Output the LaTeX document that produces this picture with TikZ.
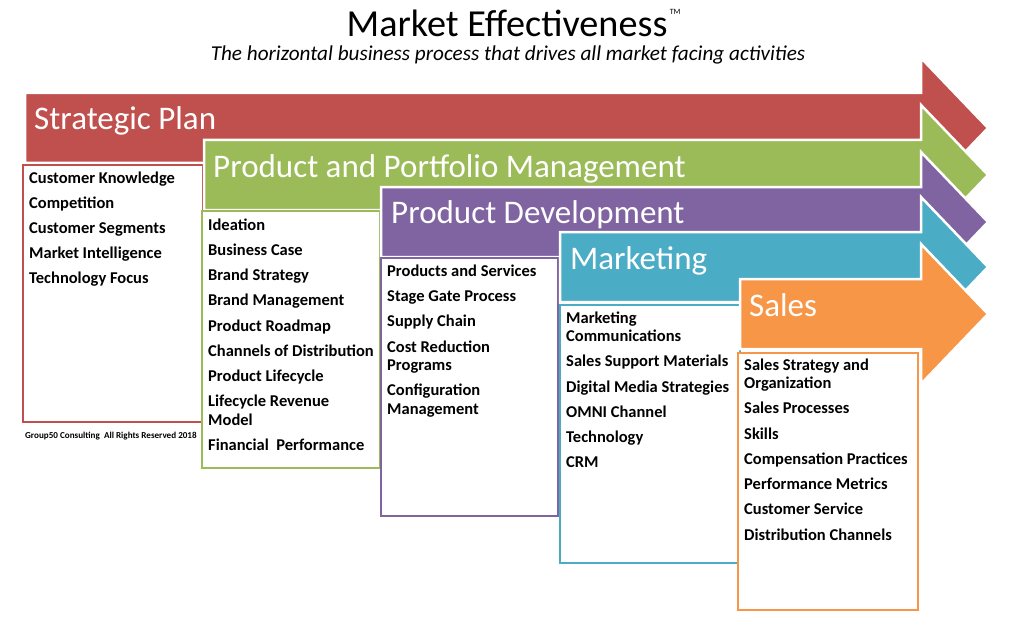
\documentclass[tikz,border=0pt]{standalone}
\usepackage{fontspec}
\setmainfont{Carlito}
\definecolor{cRed}{HTML}{C0504D}
\definecolor{cGreen}{HTML}{9BBB59}
\definecolor{cPurple}{HTML}{8064A2}
\definecolor{cTeal}{HTML}{4BACC6}
\definecolor{cOrange}{HTML}{F79646}
\newcommand\mearrow[3]{%
  \filldraw[arrowshape=#3] (#1,#2-35) -- (921,#2-35) -- (921,#2-70) -- (988,#2) -- (921,#2+70) -- (921,#2+35) -- (#1,#2+35) -- cycle;}
\begin{document}
\begin{tikzpicture}[x=1pt,y=-1pt,
  arrowshape/.style={fill=#1, draw=white, line width=2.5pt, line join=miter},
  listbox/.style={draw=#1, line width=2pt, fill=white},
  stage/.style={text=white, font=\fontsize{33}{36}\selectfont, anchor=base west, inner sep=0pt},
  item/.style={font=\bfseries\fontsize{16.5}{18}\selectfont, anchor=base west, inner sep=0pt}]
\useasboundingbox (0,0) rectangle (1024,639);

\node[font=\fontsize{38.2}{40}\selectfont, anchor=base, inner sep=0pt] (title) at (507,36.5) {Market Effectiveness};
\node[font=\fontsize{8}{9}\selectfont, anchor=base west, inner sep=0pt] (tm) at (title.base east) [xshift=2pt, yshift=22pt] {TM};
\node[font=\itshape\fontsize{21.2}{24}\selectfont, anchor=base, inner sep=0pt] (sub) at (508,60.5) {The horizontal business process that drives all market facing activities};

% Strategic Plan
\mearrow{25}{128}{cRed}
\node[stage] (sp) at (34,130) {Strategic Plan};
\draw[listbox=cRed] (23,165) rectangle (203,422);
\foreach \t/\y [count=\i] in {Customer Knowledge/183.3, Competition/208.3, Customer Segments/233.3, Market Intelligence/258.3, Technology Focus/283.3}
  \node[item] (r\i) at (29,\y) {\t};
\node[font=\bfseries\fontsize{9.1}{10}\selectfont, anchor=base west, inner sep=0pt] (copy) at (25,438.5) {Group50 Consulting~~All Rights Reserved 2018};

% Product and Portfolio Management
\mearrow{204}{175}{cGreen}
\node[stage] (ppm) at (213,177) {Product and Portfolio Management};
\draw[listbox=cGreen] (202,211) rectangle (380,468);
\foreach \t/\y [count=\i] in {Ideation/230, Business Case/255.2, Brand Strategy/280.5, Brand Management/305.8, Product Roadmap/331, Channels of Distribution/356.3, Product Lifecycle/381.6, Lifecycle Revenue/406.8, Model/425, Financial~~Performance/450.2}
  \node[item] (g\i) at (208,\y) {\t};

% Product Development
\mearrow{381}{222}{cPurple}
\node[stage] (pd) at (391,223.5) {Product Development};
\draw[listbox=cPurple] (381,258) rectangle (558,516);
\foreach \t/\y [count=\i] in {Products and Services/276.7, Stage Gate Process/301.7, Supply Chain/326.8, Cost Reduction/352.2, Programs/370.5, Configuration/395.8, Management/414.1}
  \node[item] (p\i) at (387,\y) {\t};

% Marketing
\mearrow{560}{267}{cTeal}
\node[stage] (mk) at (570,269.5) {Marketing};
\draw[listbox=cTeal] (560,305) rectangle (740,563);
\foreach \t/\y [count=\i] in {Marketing/323.3, Communications/341.6, Sales Support Materials/366.8, Digital Media Strategies/392.1, OMNI Channel/417.4, Technology/442.6, CRM/467.9}
  \node[item] (t\i) at (566,\y) {\t};

% Sales
\mearrow{740}{314}{cOrange}
\node[stage] (sl) at (749,316.5) {Sales};
\draw[listbox=cOrange] (738,353) rectangle (918,610);
\foreach \t/\y [count=\i] in {Sales Strategy and/370.7, Organization/388.6, Sales Processes/413.8, Skills/439.1, Compensation Practices/464.3, Performance Metrics/489.5, Customer Service/514.7, Distribution Channels/540}
  \node[item] (o\i) at (744,\y) {\t};
\end{tikzpicture}
\end{document}
